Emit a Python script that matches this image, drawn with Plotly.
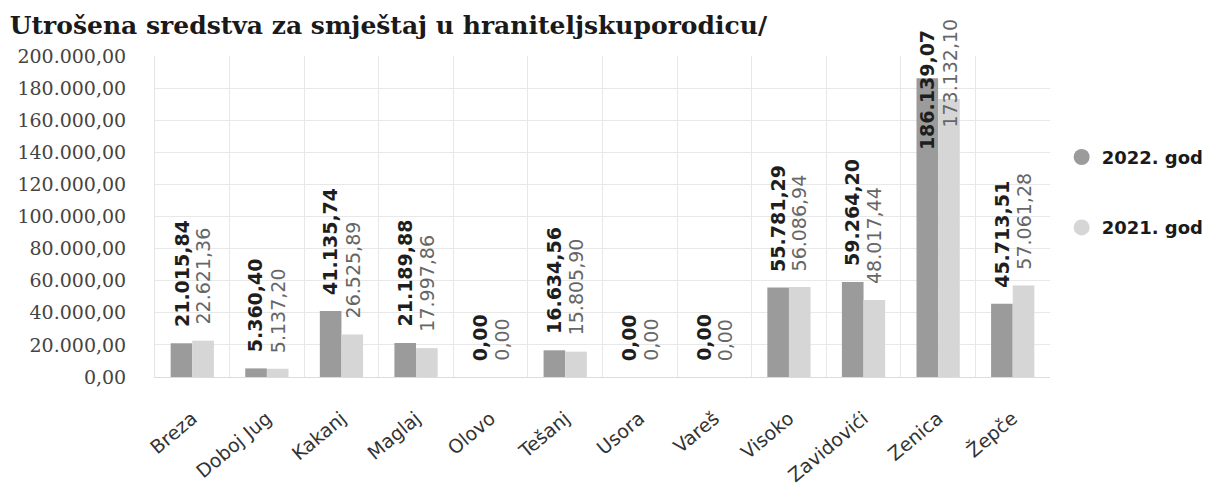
import plotly.graph_objects as go

categories = ["Breza", "Doboj Jug", "Kakanj", "Maglaj", "Olovo", "Tešanj",
              "Usora", "Vareš", "Visoko", "Zavidovići", "Zenica", "Žepče"]
values_2022 = [21015.84, 5360.40, 41135.74, 21189.88, 0.00, 16634.56,
               0.00, 0.00, 55781.29, 59264.20, 186139.07, 45713.51]
values_2021 = [22621.36, 5137.20, 26525.89, 17997.86, 0.00, 15805.90,
               0.00, 0.00, 56086.94, 48017.44, 173132.10, 57061.28]
series_names = ["2022. god", "2021. god"]
y_ticks = list(range(0, 200001, 20000))
title_text = "Utrošena sredstva za smještaj u hraniteljskuporodicu/"

c22 = "#9b9b9b"
c21 = "#d6d6d6"
YMAX = 200000


def fmt(v):
    s = f"{v:,.2f}"
    return s.replace(",", "X").replace(".", ",").replace("X", ".")


fig = go.Figure()
fig.add_trace(go.Bar(x=categories, y=values_2022, name=series_names[0],
                     marker=dict(color=c22, line=dict(width=0)), showlegend=False))
fig.add_trace(go.Bar(x=categories, y=values_2021, name=series_names[1],
                     marker=dict(color=c21, line=dict(width=0)), showlegend=False))

# legend entries with circle markers
fig.add_trace(go.Scatter(x=[None], y=[None], mode="markers", name=series_names[0],
                         legendgroup="a",
                         marker=dict(symbol="circle", size=20, color=c22)))
fig.add_trace(go.Scatter(x=[None], y=[None], mode="markers", name=series_names[1],
                         legendgroup="b",
                         marker=dict(symbol="circle", size=20, color=c21)))

annotations = []
for vals, shift, font, top_shift in [
    (values_2022, -11, dict(family="DejaVu Sans", size=19, color="#1e1e1e", weight="bold"), 28),
    (values_2021, 11, dict(family="DejaVu Sans", size=19, color="#666666"), 39),
]:
    for cat, v in zip(categories, vals):
        if v > 0.75 * YMAX:
            annotations.append(dict(x=cat, y=YMAX, xref="x", yref="y", xshift=shift,
                                    yshift=top_shift, yanchor="top", text=fmt(v),
                                    textangle=-90, showarrow=False, font=font))
        else:
            annotations.append(dict(x=cat, y=v, xref="x", yref="y", xshift=shift,
                                    yshift=14, yanchor="bottom", text=fmt(v),
                                    textangle=-90, showarrow=False, font=font))

fig.update_layout(
    width=1221, height=485,
    margin=dict(l=155, r=157, t=56, b=108),
    paper_bgcolor="white", plot_bgcolor="white",
    separators=",.",
    barmode="group", bargap=0.42, bargroupgap=0,
    title=dict(text=title_text, x=0.008, xanchor="left", y=0.948, yanchor="middle",
               font=dict(family="DejaVu Serif", size=25, color="#1a1a1a", weight="bold")),
    showlegend=True,
    legend=dict(x=1.013, xanchor="left", y=0.742, yanchor="top",
                tracegroupgap=44, bgcolor="rgba(0,0,0,0)",
                font=dict(family="DejaVu Sans", size=18, color="#1a1a1a", weight="bold")),
    xaxis=dict(type="category", tickson="boundaries", showgrid=True, gridcolor="#e8e8e8",
               ticks="", tickangle=-40, showline=True, linecolor="#dcdcdc",
               automargin=False, ticklabelstandoff=22,
               tickfont=dict(family="DejaVu Sans", size=19, color="#333333")),
    yaxis=dict(range=[0, YMAX], tickvals=y_ticks, tickformat=",.2f", showgrid=True,
               gridcolor="#e8e8e8", zeroline=False, showline=True, linecolor="#e4e4e4",
               ticks="", ticklen=0, automargin=False, ticklabelstandoff=24,
               tickfont=dict(family="DejaVu Serif", size=19, color="#444444")),
    annotations=annotations,
)

fig.write_html("out.html", config={"displayModeBar": False},
               post_script="document.body.style.margin='0';document.body.style.overflow='hidden';")
